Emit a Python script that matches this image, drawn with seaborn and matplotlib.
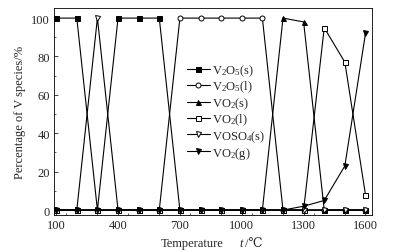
import matplotlib
matplotlib.use("Agg")
import matplotlib.pyplot as plt
import seaborn as sns
import pandas as pd
from matplotlib.ticker import MultipleLocator

temps = [100, 200, 300, 400, 500, 600, 700, 800, 900, 1000, 1100, 1200, 1300, 1400, 1500, 1600]
v2o5_s = [100, 100, 0, 100, 100, 100, 0, 0, 0, 0, 0, 0, 0, 0, 0, 0]
v2o5_l = [0, 0, 0, 0, 0, 0, 100, 100, 100, 100, 100, 0, 0, 0, 0, 0]
vo2_s = [0, 0, 0, 0, 0, 0, 0, 0, 0, 0, 0, 100, 98, 0, 0, 0]
vo2_l = [0, 0, 0, 0, 0, 0, 0, 0, 0, 0, 0, 0, 0, 95, 77, 8]
voso4_s = [0, 0, 100, 0, 0, 0, 0, 0, 0, 0, 0, 0, 0, 0, 0, 0]
vo2_g = [0, 0, 0, 0, 0, 0, 0, 0, 0, 0, 0, 0, 2, 5, 23, 92]

labels = ["V$_2$O$_5$(s)", "V$_2$O$_5$(l)", "VO$_2$(s)", "VO$_2$(l)", "VOSO$_4$(s)", "VO$_2$(g)"]
series = [v2o5_s, v2o5_l, vo2_s, vo2_l, voso4_s, vo2_g]
markers = ["s", "o", "^", "s", "v", "v"]
filled = [True, False, True, False, False, True]

sns.set_theme(style="ticks")
plt.rcParams["font.family"] = ["Liberation Serif", "DejaVu Serif", "Noto Sans CJK SC"]
plt.rcParams["mathtext.fontset"] = "custom"
plt.rcParams["mathtext.rm"] = "Liberation Serif"
plt.rcParams["mathtext.it"] = "Liberation Serif:italic"
plt.rcParams["mathtext.default"] = "regular"

fig = plt.figure(figsize=(3.95, 2.53), dpi=100)
ax = fig.add_axes([0.137, 0.146, 0.806, 0.818])

for lab, vals, m, f in zip(labels, series, markers, filled):
    df = pd.DataFrame({"t": temps, "p": vals})
    sns.lineplot(data=df, x="t", y="p", ax=ax, color="black", lw=0.8,
                 marker=m, markersize=3.6, markerfacecolor="black" if f else "white",
                 markeredgecolor="black", markeredgewidth=0.7, label=lab)

ax.set_xlim(90, 1634)
ax.set_ylim(-2.6, 105.2)
ax.set_xticks([100, 400, 700, 1000, 1300, 1600])
ax.xaxis.set_minor_locator(MultipleLocator(150))
ax.yaxis.set_major_locator(MultipleLocator(20))
ax.yaxis.set_minor_locator(MultipleLocator(10))
ax.tick_params(which="both", direction="in", labelsize=9, top=False, right=False)
ax.tick_params(which="major", length=3, width=0.6, pad=3)
ax.tick_params(which="minor", length=1.5, width=0.5)
for s in ax.spines.values():
    s.set_linewidth(0.6)
    s.set_color("black")

ax.set_xlabel("")
ax.set_ylabel("Percentage of V species/%", fontsize=9, labelpad=4)
fig.text(161 / 395, 1 - 247 / 253, "Temperature", fontsize=9, ha="left", va="baseline")
fig.text(239 / 395, 1 - 247 / 253, "t", fontsize=9, style="italic", ha="left", va="baseline")
fig.text(245 / 395, 1 - 247 / 253, "/℃", fontsize=9, ha="left", va="baseline",
         family=["Liberation Serif", "DejaVu Serif", "Noto Sans CJK SC"])

ax.legend(loc="upper left", bbox_to_anchor=(0.39, 0.78), frameon=False, fontsize=9,
          handlelength=1.8, handletextpad=0.2, labelspacing=0.08, borderpad=0.2)

fig.savefig("out.png", dpi=100)
